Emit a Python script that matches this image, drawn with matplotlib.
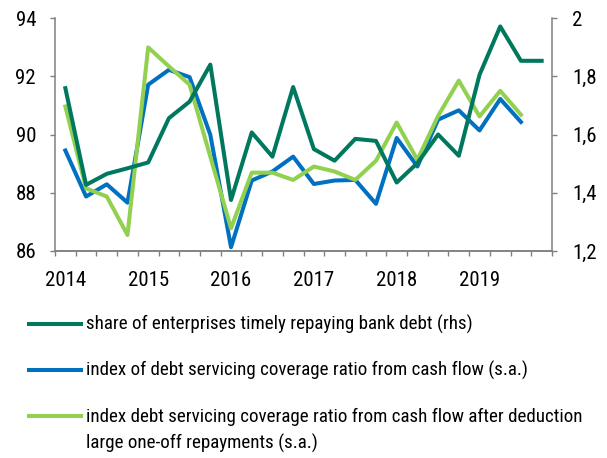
import matplotlib.pyplot as plt
from matplotlib.lines import Line2D
from matplotlib import font_manager

# quarterly data, 2014Q1 - 2019Q4
years = ['2014', '2015', '2016', '2017', '2018', '2019']

timely_share = [1.759, 1.427, 1.465, 1.484, 1.504, 1.656, 1.713, 1.840,
                1.375, 1.607, 1.524, 1.763, 1.550, 1.510, 1.585, 1.578,
                1.435, 1.502, 1.600, 1.527, 1.805, 1.971, 1.853, 1.853]
coverage = [89.45, 87.87, 88.29, 87.66, 91.71, 92.22, 91.97, 89.99,
            86.13, 88.42, 88.73, 89.24, 88.30, 88.42, 88.44, 87.62,
            89.88, 88.90, 90.51, 90.83, 90.14, 91.22, 90.43]
coverage_adj = [90.96, 88.15, 87.87, 86.55, 92.99, 92.34, 91.71, 89.24,
                86.78, 88.69, 88.69, 88.44, 88.90, 88.73, 88.44, 89.10,
                90.41, 89.13, 90.64, 91.85, 90.62, 91.50, 90.68]

labels = ['share of enterprises timely repaying bank debt (rhs)',
          'index of debt servicing coverage ratio from cash flow (s.a.)',
          'index debt servicing coverage ratio from cash flow after deduction\nlarge one-off repayments (s.a.)']
colors = ['#00785E', '#0070C0', '#92D050']

installed = {f.name for f in font_manager.fontManager.ttflist}
family = next(f for f in ['Liberation Sans Narrow', 'Roboto Condensed', 'Arial Narrow', 'Liberation Sans']
              if f in installed)
narrow = family != 'Liberation Sans'
plt.rcParams['font.family'] = [family, 'DejaVu Sans']
tick_fs = 15 if narrow else 13.5
leg_fs = 13.7 if narrow else 12.3

W, H = 607, 458
fig = plt.figure(figsize=(W / 100, H / 100), dpi=100)
ax = fig.add_axes([55 / W, 1 - 251 / H, 497 / W, 233 / H])
ax2 = ax.twinx()

x = [i + 0.5 for i in range(24)]
ax.plot(x[:len(coverage)], coverage, color=colors[1], lw=2.9)
ax.plot(x[:len(coverage_adj)], coverage_adj, color=colors[2], lw=2.9)
ax2.plot(x, timely_share, color=colors[0], lw=2.9)

ax.set_xlim(0, 24)
ax.set_ylim(86, 94)
ax2.set_ylim(1.2, 2.0)
ax.set_yticks([86, 88, 90, 92, 94])
ax2.set_yticks([1.2, 1.4, 1.6, 1.8, 2.0])
ax2.set_yticklabels(['1,2', '1,4', '1,6', '1,8', '2'])

# quarter boundaries as ticks, year names centred on Q1
ax.set_xticks(range(25))
ax.set_xticklabels([])
ax.set_xticks([i * 4 + 0.5 for i in range(len(years))], minor=True)
ax.set_xticklabels(years, minor=True)
ax.tick_params(axis='x', which='minor', length=0, pad=14.5, labelsize=tick_fs)
ax.tick_params(axis='x', which='major', length=3.6, width=1, color='#808080')

for a in (ax, ax2):
    for s in a.spines.values():
        s.set_color('#808080')
        s.set_linewidth(1.1)
    a.spines['top'].set_visible(False)
ax.spines['right'].set_visible(False)
ax2.spines['left'].set_visible(False)
ax.tick_params(axis='y', length=3.6, width=1, color='#808080', pad=10, labelsize=tick_fs)
ax2.tick_params(axis='y', length=3.6, width=1, color='#808080', pad=11, labelsize=tick_fs)

# legend below the plot; each text line on its own baseline, 27 px apart
rows = [324, 370, 416]
for lab, col, yp in zip(labels, colors, rows):
    fy = 1 - yp / H
    fig.add_artist(Line2D([29 / W, 81 / W], [fy, fy], color=col, lw=2.9,
                          transform=fig.transFigure))
    for k, line in enumerate(lab.split('\n')):
        fig.text(86 / W, 1 - (yp + 6 + 27 * k) / H, line, fontsize=leg_fs,
                 va='baseline', ha='left')

fig.savefig('out.png', dpi=100)
